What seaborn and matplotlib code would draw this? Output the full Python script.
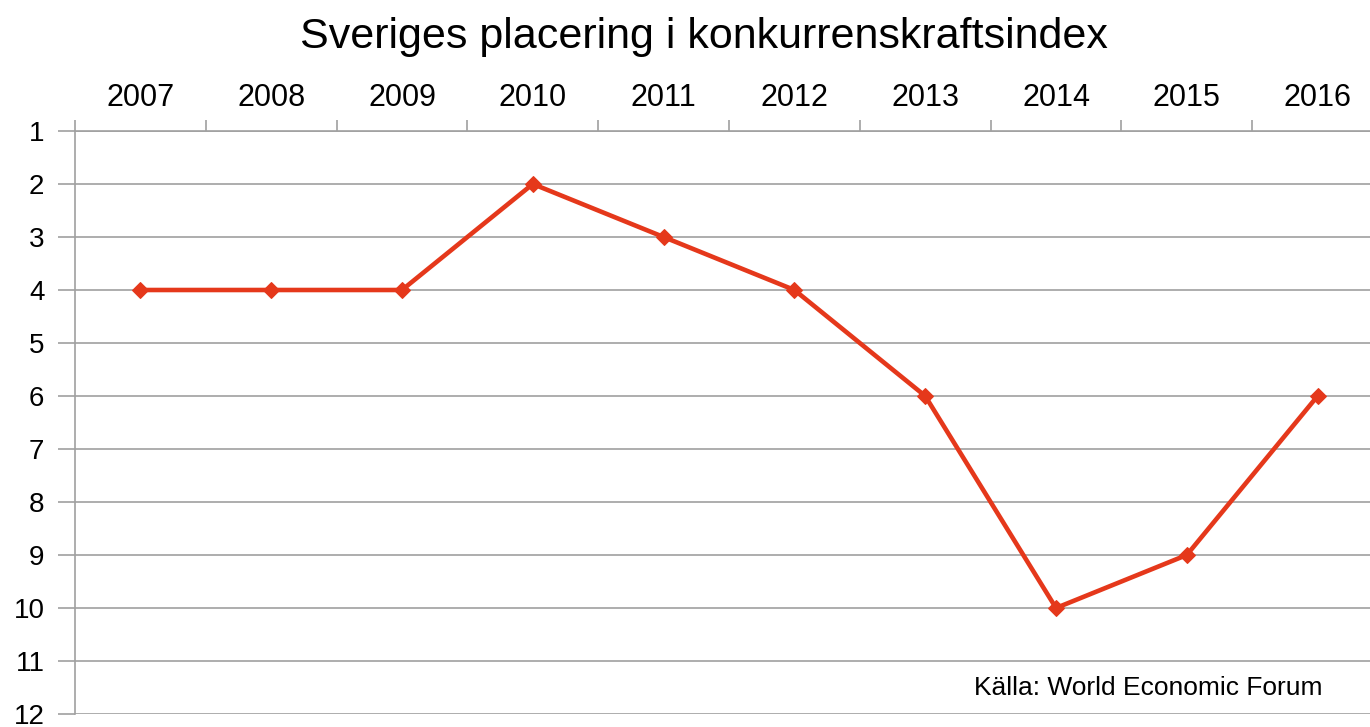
import pandas as pd
import matplotlib.pyplot as plt
import seaborn as sns

# data
years = [2007, 2008, 2009, 2010, 2011, 2012, 2013, 2014, 2015, 2016]
placering = [4, 4, 4, 2, 3, 4, 6, 10, 9, 6]
y_ticks = list(range(1, 13))

df = pd.DataFrame({"year": years, "rank": placering})

sns.set_style("white")
plt.rcParams['font.family'] = ['Liberation Sans', 'DejaVu Sans']
plt.rcParams['text.color'] = 'black'

fig = plt.figure(figsize=(13.7, 7.27), dpi=100)
ax = fig.add_axes([75 / 1370, 1 - 714 / 727, 1308 / 1370, (714 - 131) / 727])

sns.lineplot(data=df, x="year", y="rank", ax=ax, color="#E5381B", linewidth=3.3,
             marker="D", markersize=8, markeredgecolor="#E5381B")

grid_col = "#A0A0A0"
ax.set_ylim(12, 1)
ax.set_yticks(y_ticks)
ax.set_yticklabels([str(v) for v in y_ticks], fontsize=20)
ax.yaxis.grid(True, color=grid_col, linewidth=1.2)
ax.set_axisbelow(True)

ax.set_xlim(years[0] - 0.5, years[-1] + 0.5)
ax.xaxis.tick_top()
ax.set_xticks(years)
ax.set_xticklabels([str(y) for y in years], fontsize=22)
ax.set_xticks([y - 0.5 for y in years] + [years[-1] + 0.5], minor=True)
ax.tick_params(axis="x", which="major", length=0, pad=13, labelcolor="black")
ax.tick_params(axis="x", which="minor", length=8, width=1.2, color=grid_col, top=True, bottom=False)
ax.tick_params(axis="y", which="major", length=12, width=1.2, color=grid_col, left=True, pad=10,
               labelcolor="black")

for side in ["right", "bottom"]:
    ax.spines[side].set_visible(False)
for side in ["left", "top"]:
    ax.spines[side].set_color(grid_col)
    ax.spines[side].set_linewidth(1.2)

ax.set_xlabel("")
ax.set_ylabel("")

fig.text(704 / 1370, 1 - 37 / 727, "Sveriges placering i konkurrenskraftsindex",
         ha="center", va="center", fontsize=31, color="black")
fig.text(1322 / 1370, 1 - 688 / 727, "Källa: World Economic Forum",
         ha="right", va="center", fontsize=19, color="black")

fig.savefig("out.png", dpi=100)
